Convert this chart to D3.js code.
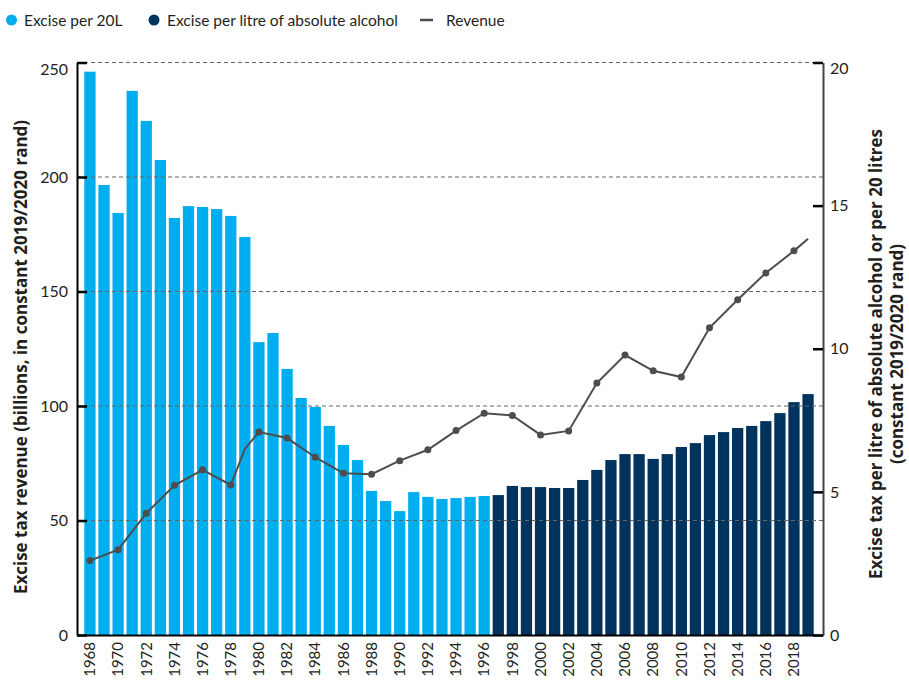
<!DOCTYPE html>
<html>
<head>
<meta charset="utf-8">
<script src="https://cdn.jsdelivr.net/npm/d3@7"></script>
<style>
  body { margin: 0; background: #fff; }
  svg text { font-family: Lato, "Noto Sans", sans-serif; fill: #231f20; }
  svg text.title { font-family: "Open Sans", "Noto Sans", sans-serif; font-weight: bold; font-size: 17px; }
</style>
</head>
<body>
<svg id="chart" width="909" height="682"></svg>
<script>
// all years on the x axis
const years = [1968, 1969, 1970, 1971, 1972, 1973, 1974, 1975, 1976, 1977, 1978, 1979, 1980,
  1981, 1982, 1983, 1984, 1985, 1986, 1987, 1988, 1989, 1990, 1991, 1992, 1993, 1994, 1995,
  1996, 1997, 1998, 1999, 2000, 2001, 2002, 2003, 2004, 2005, 2006, 2007, 2008, 2009, 2010,
  2011, 2012, 2013, 2014, 2015, 2016, 2017, 2018, 2019];
const yearLabels = [1968, 1970, 1972, 1974, 1976, 1978, 1980, 1982, 1984, 1986, 1988, 1990,
  1992, 1994, 1996, 1998, 2000, 2002, 2004, 2006, 2008, 2010, 2012, 2014, 2016, 2018];

// excise per 20L (1968-1996)
const per20LYears = [1968, 1969, 1970, 1971, 1972, 1973, 1974, 1975, 1976, 1977, 1978, 1979,
  1980, 1981, 1982, 1983, 1984, 1985, 1986, 1987, 1988, 1989, 1990, 1991, 1992, 1993, 1994,
  1995, 1996];
const per20L = [246, 196.5, 184.3, 237.6, 224.5, 207.4, 182.1, 187.3, 186.9, 186, 183, 173.8,
  127.9, 131.9, 116.2, 103.5, 99.6, 91.3, 83, 76.4, 62.9, 58.5, 54.1, 62.4, 60.3, 59.4, 59.8,
  60.3, 60.7];

// excise per litre of absolute alcohol (1997-2019)
const perAAYears = [1997, 1998, 1999, 2000, 2001, 2002, 2003, 2004, 2005, 2006, 2007, 2008,
  2009, 2010, 2011, 2012, 2013, 2014, 2015, 2016, 2017, 2018, 2019];
const perAA = [61.1, 65.1, 64.6, 64.6, 64.2, 64.2, 67.7, 72.1, 76.4, 79, 79, 76.9, 79, 82.1,
  83.8, 87.3, 88.6, 90.4, 91.3, 93.4, 96.9, 101.7, 105.2];

// revenue line (right axis), dots only on the marked points
const revenueYears = [1968, 1970, 1972, 1974, 1976, 1978, 1979, 1980, 1982, 1984, 1986, 1988,
  1990, 1992, 1994, 1996, 1998, 2000, 2002, 2004, 2006, 2008, 2010, 2012, 2014, 2016, 2018, 2019];
const revenue = [2.6, 2.98, 4.25, 5.23, 5.77, 5.24, 6.5, 7.09, 6.88, 6.21, 5.65, 5.62, 6.09,
  6.47, 7.14, 7.75, 7.67, 6.99, 7.13, 8.8, 9.78, 9.23, 9.01, 10.73, 11.71, 12.65, 13.42, 13.84];
const revenueDot = [1, 1, 1, 1, 1, 1, 0, 1, 1, 1, 1, 1, 1, 1, 1, 1, 1, 1, 1, 1, 1, 1, 1, 1, 1, 1, 1, 0];

const leftTicks = [0, 50, 100, 150, 200, 250];
const rightTicks = [0, 5, 10, 15, 20];
const gridTicks = [50, 100, 150, 200, 250];

const lightBlue = "#00aeef";
const navy = "#00335e";
const lineColor = "#4d4d4d";

const plot = { left: 77, right: 823, top: 62.5, bottom: 635 };

const svg = d3.select("#chart");

const x = d3.scaleBand().domain(years).range([plot.left, plot.right])
  .paddingInner(0.2).paddingOuter(0.59).align(0.44);
const yLeft = d3.scaleLinear().domain([0, 250]).range([plot.bottom, plot.top]);
const yRight = d3.scaleLinear().domain([0, 20]).range([plot.bottom, plot.top]);

// bars
svg.append("g").selectAll("rect")
  .data(per20LYears.map((y, i) => [y, per20L[i]]))
  .join("rect")
  .attr("x", d => x(d[0]))
  .attr("y", d => yLeft(d[1]))
  .attr("width", x.bandwidth())
  .attr("height", d => yLeft(0) - yLeft(d[1]))
  .attr("fill", lightBlue);

svg.append("g").selectAll("rect")
  .data(perAAYears.map((y, i) => [y, perAA[i]]))
  .join("rect")
  .attr("x", d => x(d[0]))
  .attr("y", d => yLeft(d[1]))
  .attr("width", x.bandwidth())
  .attr("height", d => yLeft(0) - yLeft(d[1]))
  .attr("fill", navy);

// dashed gridlines, drawn over the bars
svg.append("g").selectAll("line")
  .data(gridTicks)
  .join("line")
  .attr("x1", plot.left).attr("x2", plot.right)
  .attr("y1", d => yLeft(d)).attr("y2", d => yLeft(d))
  .attr("stroke", "#666")
  .attr("stroke-width", 1)
  .attr("stroke-dasharray", "4,3");

// revenue line
const revData = revenueYears.map((y, i) => ({ year: y, v: revenue[i], dot: revenueDot[i] }));
const line = d3.line()
  .x(d => x(d.year) + x.bandwidth() / 2)
  .y(d => yRight(d.v));

svg.append("path")
  .datum(revData)
  .attr("d", line)
  .attr("fill", "none")
  .attr("stroke", lineColor)
  .attr("stroke-width", 2);

svg.append("g").selectAll("circle")
  .data(revData.filter(d => d.dot))
  .join("circle")
  .attr("cx", d => x(d.year) + x.bandwidth() / 2)
  .attr("cy", d => yRight(d.v))
  .attr("r", 3.5)
  .attr("fill", lineColor);

// axes
const leftAxis = svg.append("g")
  .attr("transform", `translate(${plot.left},0)`)
  .call(d3.axisLeft(yLeft).tickValues(leftTicks).tickSize(-10).tickSizeOuter(0).tickPadding(9));
leftAxis.select(".domain").attr("stroke", "#000").attr("stroke-width", 2);
leftAxis.selectAll(".tick line").attr("stroke", "#000").attr("stroke-width", 2.5);
leftAxis.selectAll(".tick text").style("font-size", "16px")
  .filter(d => d === 250).attr("y", 7);

const rightAxis = svg.append("g")
  .attr("transform", `translate(${plot.right},0)`)
  .call(d3.axisRight(yRight).tickValues(rightTicks).tickSize(-10).tickSizeOuter(0).tickPadding(7));
rightAxis.select(".domain").attr("stroke", "#444").attr("stroke-width", 2);
rightAxis.selectAll(".tick line").attr("stroke", "#000").attr("stroke-width", 2.5);
rightAxis.selectAll(".tick text").style("font-size", "16px")
  .filter(d => d === 20).attr("y", 6);

const bottomAxis = svg.append("g")
  .attr("transform", `translate(0,${plot.bottom})`)
  .call(d3.axisBottom(x).tickValues(yearLabels).tickSize(0).tickSizeOuter(0));
bottomAxis.select(".domain").attr("stroke", "#000").attr("stroke-width", 2);
bottomAxis.selectAll(".tick text")
  .attr("transform", "rotate(-90)")
  .attr("x", -7)
  .attr("y", 0)
  .attr("dy", "0.35em")
  .attr("text-anchor", "end")
  .style("font-size", "15px");

// axis titles
svg.append("text")
  .attr("class", "title")
  .attr("transform", "translate(27,357)rotate(-90)")
  .attr("text-anchor", "middle")
  .text("Excise tax revenue (billions, in constant 2019/2020 rand)");

svg.append("text")
  .attr("class", "title")
  .attr("transform", "translate(882,354)rotate(-90)")
  .attr("text-anchor", "middle")
  .text("Excise tax per litre of absolute alcohol or per 20 litres");

svg.append("text")
  .attr("class", "title")
  .attr("transform", "translate(903,354)rotate(-90)")
  .attr("text-anchor", "middle")
  .text("(constant 2019/2020 rand)");

// legend
const legend = svg.append("g").style("font-size", "15.5px");
legend.append("circle").attr("cx", 11.5).attr("cy", 20).attr("r", 5.5).attr("fill", lightBlue);
legend.append("text").attr("x", 24).attr("y", 25.5).text("Excise per 20L");
legend.append("circle").attr("cx", 154).attr("cy", 20).attr("r", 5.5).attr("fill", navy);
legend.append("text").attr("x", 167).attr("y", 25.5).text("Excise per litre of absolute alcohol");
legend.append("line").attr("x1", 420).attr("x2", 433).attr("y1", 20).attr("y2", 20)
  .attr("stroke", lineColor).attr("stroke-width", 2.5);
legend.append("text").attr("x", 446).attr("y", 25.5).text("Revenue");
</script>
</body>
</html>
